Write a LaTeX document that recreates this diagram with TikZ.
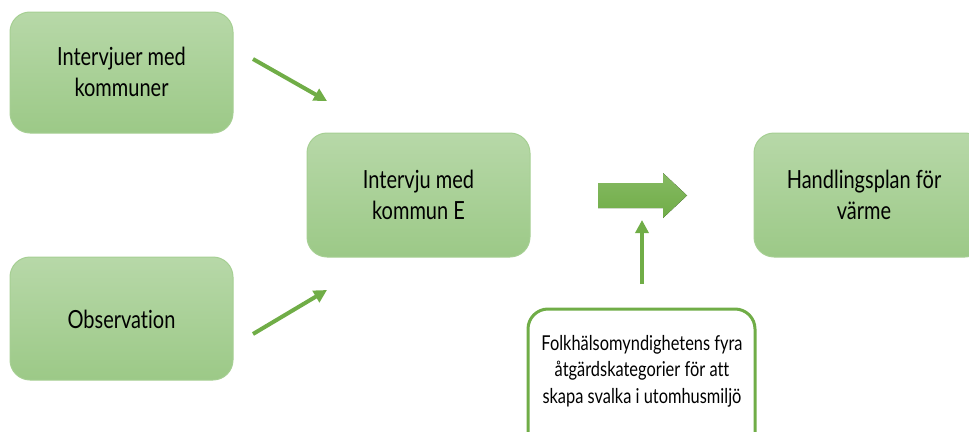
\documentclass[tikz,border=0pt]{standalone}
\usepackage{fontspec}
\setmainfont[FakeStretch=0.8,Ligatures={NoCommon}]{Lato}
\usetikzlibrary{arrows.meta}
\definecolor{boxtop}{HTML}{B7D8A8}
\definecolor{boxbot}{HTML}{9CC987}
\definecolor{boxedge}{HTML}{A6CF93}
\definecolor{arrowgreen}{HTML}{70AD47}
\tikzset{
  greenbox/.style={draw=boxedge, line width=1pt, rounded corners=20pt, top color=boxtop, bottom color=boxbot},
  whitebox/.style={draw=arrowgreen, line width=3pt, rounded corners=20pt, fill=white},
  lbl/.style={align=center, font=\fontsize{25}{31}\selectfont, text=black},
  slbl/.style={align=center, font=\fontsize{20.5}{26.5}\selectfont, text=black},
  thinarrow/.style={draw=arrowgreen, line width=4pt, -{Triangle[length=13pt,width=13pt]}}
}
\begin{document}
\begin{tikzpicture}[x=1pt,y=-1pt]
\useasboundingbox (0,0) rectangle (969,431);
\clip (0,0) rectangle (969,431);
% boxes
\path[greenbox] (10,12) rectangle (233,133);
\node[lbl] (a) at (121.5,72) {Intervjuer med\\kommuner};
\path[greenbox] (10,257) rectangle (233,380);
\node[lbl] (b) at (121.5,319) {Observation};
\path[greenbox] (307,133) rectangle (530,257);
\node[lbl] (c) at (418.5,195) {Intervju med\\kommun E};
\path[greenbox] (754,133) rectangle (985,257);
\node[lbl] (d) at (864,195) {Handlingsplan för\\värme};
\path[whitebox] (528,309) rectangle (755,460);
\node[slbl] (e) at (642,371) {Folkhälsomyndighetens fyra\\åtgärdskategorier för att\\skapa svalka i utomhusmiljö};
% coordinates for arrows
\coordinate (a1) at (253,59);
\coordinate (a2) at (327,101);
\coordinate (b1) at (253,334);
\coordinate (b2) at (327,290);
\coordinate (e1) at (642,284);
\coordinate (e2) at (642,220);
\draw[thinarrow] (a1) -- (a2);
\draw[thinarrow] (b1) -- (b2);
\draw[thinarrow] (e1) -- (e2);
% block arrow
\fill[top color=arrowgreen!85!white, bottom color=arrowgreen] (598,183) -- (663,183) -- (663,173) -- (687,195.5) -- (663,218) -- (663,208) -- (598,208) -- cycle;
\end{tikzpicture}
\end{document}
